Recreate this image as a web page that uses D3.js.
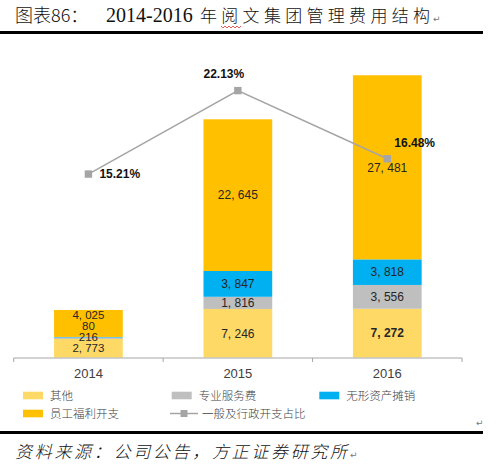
<!DOCTYPE html>
<html>
<head>
<meta charset="utf-8">
<script src="https://cdn.jsdelivr.net/npm/d3@7"></script>
<style>
  body { margin: 0; background: #fff; }
  svg { display: block; }
</style>
</head>
<body>
<div id="chart"></div>
<script>
// data
const years = ["2014", "2015", "2016"];
const seriesNames = ["其他", "专业服务费", "无形资产摊销", "员工福利开支"];
const other    = [2773, 7246, 7272];
const profFees = [216, 1816, 3556];
const amort    = [80, 3847, 3818];
const staff    = [4025, 22645, 27481];
const ratio    = [0.1521, 0.2213, 0.1648];
const lineName = "一般及行政开支占比";

const colors = ["#FFD966", "#BFBFBF", "#00B0F0", "#FFC000"];
const lineColor = "#A5A5A5";

const width = 496, height = 468;
const svg = d3.select("#chart").append("svg")
  .attr("width", width).attr("height", height);

// title + rules
svg.append("text").attr("x", 15).attr("y", 22)
  .style("font-family", "'Noto Sans CJK SC'").style("font-size", "18px").style("font-weight", 300).attr("fill", "#111")
  .text("图表86：");
svg.append("text").attr("x", 106).attr("y", 22)
  .style("font-family", "'Liberation Serif'").style("font-size", "20px").attr("fill", "#111")
  .text("2014-2016");
svg.append("text").attr("x", 200).attr("y", 22)
  .attr("textLength", 230).attr("lengthAdjust", "spacing")
  .style("font-family", "'Noto Sans CJK SC'").style("font-size", "17px").style("font-weight", 300).attr("fill", "#111")
  .text("年阅文集团管理费用结构");
// red spell-check squiggle under 阅
let sq = "M221,26";
for (let i = 0; i < 10; i++) sq += ` l2,${i % 2 ? -2 : 2}`;
svg.append("path").attr("d", sq).attr("fill", "none").attr("stroke", "#d33").attr("stroke-width", 0.8);

function retMark(x, y) {
  svg.append("text").attr("x", x).attr("y", y)
    .style("font-family", "'DejaVu Sans'").style("font-size", "9px").attr("fill", "#777").text("↵");
}
retMark(433, 22);

svg.append("rect").attr("x", 0).attr("y", 31).attr("width", 483).attr("height", 3).attr("fill", "#000");
svg.append("rect").attr("x", 0).attr("y", 431).attr("width", 483).attr("height", 3).attr("fill", "#000");
retMark(476, 426);

svg.append("text").attr("x", 15).attr("y", 458)
  .attr("textLength", 332).attr("lengthAdjust", "spacing")
  .style("font-family", "'Noto Sans CJK SC'").style("font-size", "17px").style("font-style", "italic")
  .style("font-weight", 300).attr("fill", "#111")
  .text("资料来源：公司公告，方正证券研究所");
retMark(350, 458);

// scales
const x = d3.scaleBand().domain(years).range([13.7, 462]).paddingInner(0.54).paddingOuter(0.27);
const xOuter = d3.scaleBand().domain(years).range([13.7, 462]);
const y = d3.scaleLinear().domain([0, 45000]).range([357.5, 56]);
const y2 = d3.scaleLinear().domain([0, 0.25]).range([357.5, 56]);

const rows = years.map((yr, i) => ({year: yr, s0: other[i], s1: profFees[i], s2: amort[i], s3: staff[i]}));
const stacked = d3.stack().keys(["s0", "s1", "s2", "s3"])(rows);

const g = svg.append("g");
stacked.forEach((layer, k) => {
  g.selectAll(null).data(layer).enter().append("rect")
    .attr("x", d => x(d.data.year))
    .attr("width", x.bandwidth())
    .attr("y", d => y(d[1]))
    .attr("height", d => y(d[0]) - y(d[1]))
    .attr("fill", colors[k]);
});

// bar value labels, pushed apart where segments are too thin
const fmt = d3.format(",");
years.forEach((yr, i) => {
  let prev = Infinity;
  stacked.forEach((layer, k) => {
    const d = layer[i];
    let cy = (y(d[0]) + y(d[1])) / 2;
    const crowded = cy > prev - 11;
    cy = Math.min(cy, prev - 11);
    prev = cy;
    g.append("text")
      .attr("x", x(yr) + x.bandwidth() / 2)
      .attr("y", cy)
      .attr("dy", "0.36em")
      .attr("text-anchor", "middle")
      .style("font-family", "'Liberation Sans'")
      .style("font-size", i === 0 ? "11.5px" : "12px")
      .style("font-weight", (i === 2 && k === 0) ? "bold" : "normal")
      .attr("fill", "#262626")
      .text(fmt(d[1] - d[0]).replace(",", ", "));
  });
});

// axis
const ax = svg.append("g");
ax.append("line").attr("x1", 13.7).attr("x2", 462).attr("y1", 358).attr("y2", 358)
  .attr("stroke", "#A6A6A6").attr("stroke-width", 1);
const tickXs = years.map(yr => xOuter(yr)).concat([xOuter.range()[1]]);
ax.selectAll(null).data(tickXs).enter().append("line")
  .attr("x1", d => d).attr("x2", d => d).attr("y1", 358).attr("y2", 362)
  .attr("stroke", "#A6A6A6");
ax.selectAll(null).data(years).enter().append("text")
  .attr("x", d => x(d) + x.bandwidth() / 2).attr("y", 378)
  .attr("text-anchor", "middle")
  .style("font-family", "'Liberation Sans'").style("font-size", "13px")
  .attr("fill", "#404040").text(d => d);

// ratio line
const cx = d => x(d) + x.bandwidth() / 2;
const pts = years.map((yr, i) => [cx(yr), y2(ratio[i])]);
svg.append("path").attr("d", d3.line()(pts))
  .attr("fill", "none").attr("stroke", lineColor).attr("stroke-width", 1.5);
svg.selectAll(null).data(pts).enter().append("rect")
  .attr("x", d => d[0] - 3.7).attr("y", d => d[1] - 3.7)
  .attr("width", 7.4).attr("height", 7.4).attr("fill", lineColor);

const pctFmt = d3.format(".2%");
const labelOff = [[11, 0, "start"], [-14, -17, "middle"], [7, -16, "start"]];
svg.selectAll(null).data(pts).enter().append("text")
  .attr("x", (d, i) => d[0] + labelOff[i][0])
  .attr("y", (d, i) => d[1] + labelOff[i][1])
  .attr("dy", "0.36em")
  .attr("text-anchor", (d, i) => labelOff[i][2])
  .style("font-family", "'Liberation Sans'").style("font-size", "12px").style("font-weight", "bold")
  .attr("fill", "#111")
  .text((d, i) => pctFmt(ratio[i]));

// legend
const legPos = [[23, 395.5], [171.7, 395.5], [319.3, 395.5], [23, 413.5]];
const leg = svg.append("g");
seriesNames.forEach((name, k) => {
  const [lx, ly] = legPos[k];
  leg.append("rect").attr("x", lx).attr("y", ly - 3.8).attr("width", 20).attr("height", 7.6).attr("fill", colors[k]);
  leg.append("text").attr("x", lx + 27).attr("y", ly).attr("dy", "0.36em")
    .style("font-family", "'Noto Sans CJK SC'").style("font-size", "11.5px").style("font-weight", 300)
    .attr("fill", "#404040").text(name);
});
leg.append("line").attr("x1", 170).attr("x2", 198).attr("y1", 413.5).attr("y2", 413.5)
  .attr("stroke", lineColor).attr("stroke-width", 1.5);
leg.append("rect").attr("x", 180.5).attr("y", 410).attr("width", 7).attr("height", 7).attr("fill", lineColor);
leg.append("text").attr("x", 202).attr("y", 413.5).attr("dy", "0.36em")
  .style("font-family", "'Noto Sans CJK SC'").style("font-size", "11.5px").style("font-weight", 300)
  .attr("fill", "#404040").text(lineName);
</script>
</body>
</html>
